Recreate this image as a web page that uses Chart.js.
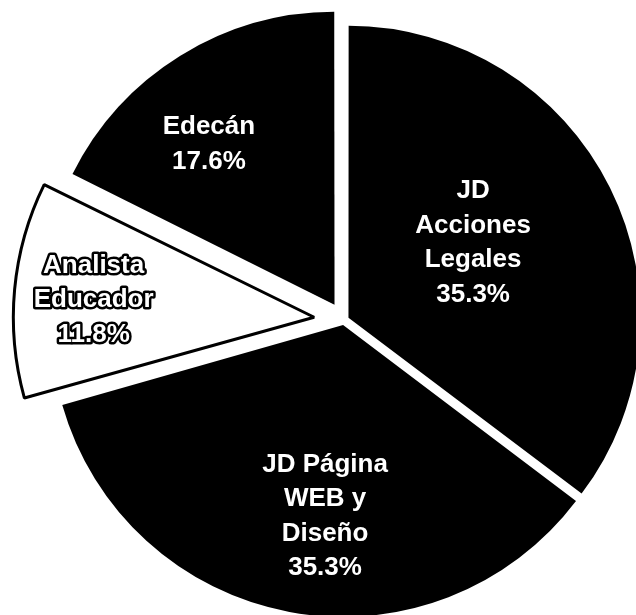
<!DOCTYPE html>
<html>
<head>
<meta charset="utf-8">
<script src="https://cdn.jsdelivr.net/npm/chart.js@4"></script>
<style>
  html, body { margin: 0; padding: 0; background: #fff; }
</style>
</head>
<body>
<canvas id="grafica" width="636" height="615"></canvas>
<script>
// puestos y numero de personas (6 + 6 + 2 + 3 = 17)
const puestos = [['JD', 'Acciones', 'Legales'], ['JD Página', 'WEB y', 'Diseño'], ['Analista', 'Educador'], ['Edecán']]
const personas = [6, 6, 2, 3]

// estilo de cada rebanada
const colores = ['#000', '#000', '#fff', '#000']
const bordes = [0, 0, 3, 0]
const desplazamiento = [20, 20, 120, 72] // chart.js mueve offset/4 px
const distanciaTexto = [0.5, 0.66, 0.76, 0.7]
const giroTexto = [-4.6, -5.2, -0.9, -6.3] // grados
const contorno = [false, false, true, false]

const total = personas.reduce((a, b) => a + b, 0)

const etiquetas = {
    id: 'etiquetas',
    afterDatasetsDraw(chart) {
        const ctx = chart.ctx
        const meta = chart.getDatasetMeta(0)
        ctx.save()
        ctx.font = 'bold 26px "Liberation Sans", Arial, sans-serif'
        ctx.textAlign = 'center'
        ctx.textBaseline = 'middle'
        meta.data.forEach((arc, i) => {
            const p = arc.getProps(['x', 'y', 'startAngle', 'endAngle', 'outerRadius'], true)
            const mid = (p.startAngle + p.endAngle) / 2
            const ang = mid + giroTexto[i] * Math.PI / 180
            const ox = p.x + Math.cos(mid) * desplazamiento[i] / 4
            const oy = p.y + Math.sin(mid) * desplazamiento[i] / 4
            const d = distanciaTexto[i] * p.outerRadius
            const cx = ox + Math.cos(ang) * d
            const cy = oy + Math.sin(ang) * d
            const lineas = puestos[i].concat([(personas[i] / total * 100).toFixed(1) + '%'])
            lineas.forEach((t, j) => {
                const y = cy + (j - (lineas.length - 1) / 2) * 34.5
                if (contorno[i]) {
                    ctx.lineWidth = 5
                    ctx.lineJoin = 'round'
                    ctx.strokeStyle = '#000'
                    ctx.strokeText(t, cx, y)
                }
                ctx.fillStyle = '#fff'
                ctx.fillText(t, cx, y)
            })
        })
        ctx.restore()
    }
}

const data = {
    labels: puestos,
    datasets: [{
        data: personas,
        backgroundColor: colores,
        borderColor: '#000',
        borderWidth: bordes,
        offset: desplazamiento
    }]
}

const config = {
    type: 'pie',
    data: data,
    options: {
        responsive: false,
        animation: false,
        events: [],
        radius: 291,
        layout: { padding: { left: 52, top: 25, right: 0, bottom: 0 } },
        plugins: {
            legend: { display: false },
            tooltip: { enabled: false }
        }
    },
    plugins: [etiquetas]
}

new Chart(document.getElementById('grafica'), config)
</script>
</body>
</html>
